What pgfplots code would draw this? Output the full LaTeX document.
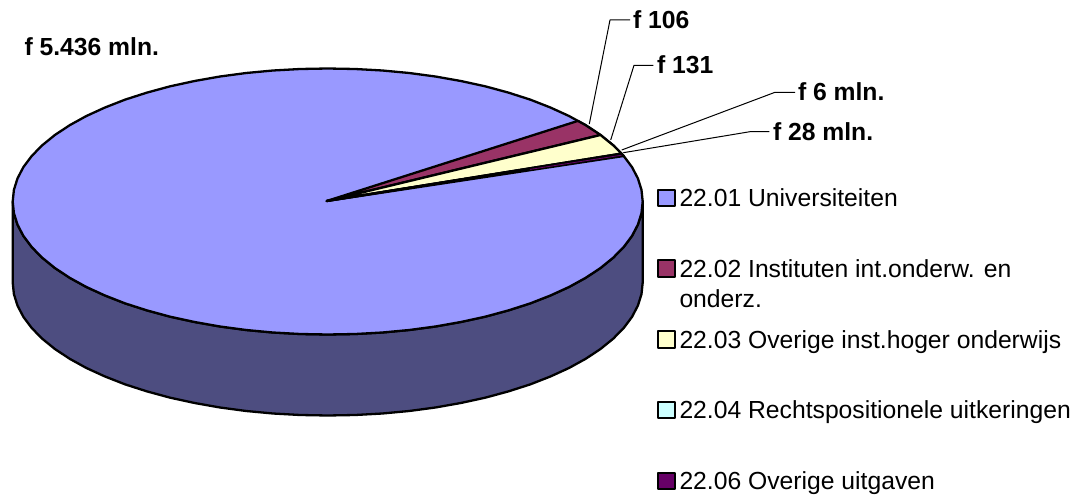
\documentclass[border=0pt]{standalone}
\usepackage{pgfplots}
\pgfplotsset{compat=1.18}
\usepackage{fontspec}
\setmainfont{Liberation Sans}
\definecolor{cA}{HTML}{9999FF}
\definecolor{cAd}{HTML}{4D4D80}
\definecolor{cB}{HTML}{993366}
\definecolor{cC}{HTML}{FFFFCC}
\definecolor{cD}{HTML}{CCFFFF}
\definecolor{cE}{HTML}{660066}
\newcommand{\lgd}[1]{\fontsize{24.7}{24.7}\selectfont #1}
\newcommand{\bd}[1]{\fontsize{24.7}{24.7}\selectfont\bfseries #1}
\tikzset{lbl/.style={anchor=base west, inner sep=0pt, outer sep=0pt, text=black}}
\begin{document}
\begin{tikzpicture}
\path[use as bounding box] (0,0) rectangle (1080pt,495pt);
\begin{axis}[
  at={(0,0)}, anchor=south west,
  scale only axis, width=1080pt, height=495pt,
  xmin=0, xmax=1080, ymin=0, ymax=495, y dir=reverse,
  hide axis, clip=false,
  every axis plot/.append style={line width=2.3pt, line join=round, no markers}
]
% side band
\addplot[draw=black, fill=cAd] coordinates {
(12.7,201.5)(13.9,213.1)(17.5,224.6)(23.4,235.9)(31.7,247)(42.2,257.7)(54.9,268)(69.7,277.8)(86.4,287)(105,295.5)(125.2,303.4)(147,310.4)(170.2,316.7)(194.6,322)(220,326.5)(246.2,330)(273,332.5)(300.2,334)(327.7,334.5)(355.2,334)(382.4,332.5)(409.2,330)(435.4,326.5)(460.8,322)(485.2,316.7)(508.4,310.4)(530.2,303.4)(550.4,295.5)(569,287)(585.7,277.8)(600.5,268)(613.2,257.7)(623.7,247)(632,235.9)(637.9,224.6)(641.5,213.1)(642.7,201.5)
(642.7,282.5)(641.5,294.1)(637.9,305.6)(632,316.9)(623.7,328)(613.2,338.7)(600.5,349)(585.7,358.8)(569,368)(550.4,376.5)(530.2,384.4)(508.4,391.4)(485.2,397.7)(460.8,403)(435.4,407.5)(409.2,411)(382.4,413.5)(355.2,415)(327.7,415.5)(300.2,415)(273,413.5)(246.2,411)(220,407.5)(194.6,403)(170.2,397.7)(147,391.4)(125.2,384.4)(105,376.5)(86.4,368)(69.7,358.8)(54.9,349)(42.2,338.7)(31.7,328)(23.4,316.9)(17.5,305.6)(13.9,294.1)(12.7,282.5)
} -- cycle;
% top face
\addplot[draw=black, fill=cA] coordinates {
(12.7,201.5)(13.9,213.1)(17.5,224.6)(23.4,235.9)(31.7,247)(42.2,257.7)(54.9,268)(69.7,277.8)(86.4,287)(105,295.5)(125.2,303.4)(147,310.4)(170.2,316.7)(194.6,322)(220,326.5)(246.2,330)(273,332.5)(300.2,334)(327.7,334.5)(355.2,334)(382.4,332.5)(409.2,330)(435.4,326.5)(460.8,322)(485.2,316.7)(508.4,310.4)(530.2,303.4)(550.4,295.5)(569,287)(585.7,277.8)(600.5,268)(613.2,257.7)(623.7,247)(632,235.9)(637.9,224.6)(641.5,213.1)(642.7,201.5)
(641.5,189.9)(637.9,178.4)(632,167.1)(623.7,156)(613.2,145.3)(600.5,135)(585.7,125.2)(569,116)(550.4,107.5)(530.2,99.6)(508.4,92.6)(485.2,86.3)(460.8,81)(435.4,76.5)(409.2,73)(382.4,70.5)(355.2,69)(327.7,68.5)(300.2,69)(273,70.5)(246.2,73)(220,76.5)(194.6,81)(170.2,86.3)(147,92.6)(125.2,99.6)(105,107.5)(86.4,116)(69.7,125.2)(54.9,135)(42.2,145.3)(31.7,156)(23.4,167.1)(17.5,178.4)(13.9,189.9)
} -- cycle;
% wedges
\addplot[draw=black, fill=cB] coordinates {(326.7,201)(577.9,120.9)(585.7,125.2)(600.5,135)} -- cycle;
\addplot[draw=black, fill=cC] coordinates {(326.7,201)(600.5,135)(613.2,145.3)(621.5,153.6)} -- cycle;
\addplot[draw=black, fill=cD] coordinates {(326.7,201)(621.5,153.6)(621.9,154.1)} -- cycle;
\addplot[draw=black, fill=cE] coordinates {(326.7,201)(621.9,154.1)(623.7,156)} -- cycle;
\addplot[draw=cE, line width=0.8pt] coordinates {(530,169.4)(621.5,155.2)};
% leader lines
\addplot[draw=black, line width=1pt] coordinates {(589.3,124)(610,20)(630,20)};
\addplot[draw=black, line width=1pt] coordinates {(610.7,140)(634,65.3)(653.3,65.3)};
\addplot[draw=black, line width=1pt] coordinates {(621.7,150)(775,92.3)(795,92.3)};
\addplot[draw=black, line width=1pt] coordinates {(623.3,152.7)(750,131.7)(769.3,131.7)};
% legend keys
\addplot[draw=black, fill=cA] coordinates {(658.3,190)(674.7,190)(674.7,206.3)(658.3,206.3)} -- cycle;
\addplot[draw=black, fill=cB] coordinates {(658.3,260.3)(674.7,260.3)(674.7,277.3)(658.3,277.3)} -- cycle;
\addplot[draw=black, fill=cC] coordinates {(658.3,331.3)(674.7,331.3)(674.7,348)(658.3,348)} -- cycle;
\addplot[draw=black, fill=cD] coordinates {(658.3,401.7)(674.7,401.7)(674.7,418)(658.3,418)} -- cycle;
\addplot[draw=black, fill=cE] coordinates {(658.3,472.7)(674.7,472.7)(674.7,489)(658.3,489)} -- cycle;
% texts
\node[lbl] at (axis cs:679.5,206.7) {\lgd{22.01 Universiteiten}};
\node[lbl] at (axis cs:679.5,277.7) {\lgd{22.02 Instituten int.onderw. en}};
\node[lbl] at (axis cs:679.5,307.3) {\lgd{onderz.}};
\node[lbl] at (axis cs:679.5,348.3) {\lgd{22.03 Overige inst.hoger onderwijs}};
\node[lbl] at (axis cs:679.5,418.7) {\lgd{22.04 Rechtspositionele uitkeringen}};
\node[lbl] at (axis cs:679.5,489.3) {\lgd{22.06 Overige uitgaven}};
\node[lbl] at (axis cs:24.5,55.7) {\bd{f 5.436 mln.}};
\node[lbl] at (axis cs:633,29) {\bd{f 106}};
\node[lbl] at (axis cs:657,73.7) {\bd{f 131}};
\node[lbl] at (axis cs:798,101) {\bd{f 6 mln.}};
\node[lbl] at (axis cs:773,140) {\bd{f 28 mln.}};
\end{axis}
\end{tikzpicture}
\end{document}
